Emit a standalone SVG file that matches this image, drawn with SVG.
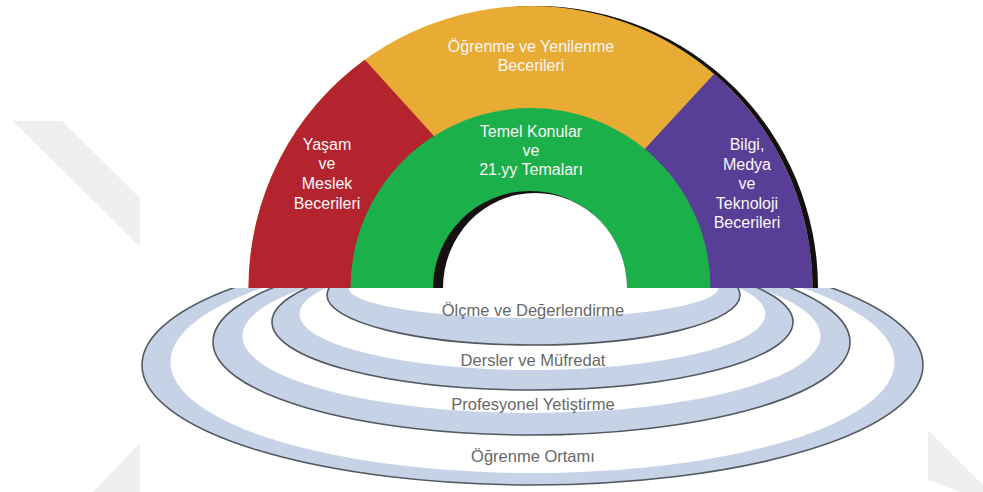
<svg xmlns="http://www.w3.org/2000/svg" width="983" height="492" viewBox="0 0 983 492">
<style>
.ring{fill:#c6d2e6;stroke:#535960;stroke-width:1.6}
.face{fill:#ffffff}
.lbl{font-family:"Liberation Sans",Arial,sans-serif;font-size:16.5px;fill:#686868;text-anchor:middle}
.wt{font-family:"Liberation Sans",Arial,sans-serif;font-size:16px;fill:#fbf6f8;text-anchor:middle}
.wm{fill:#efefef}
</style>
<defs>
<clipPath id="below"><rect x="0" y="288" width="983" height="204"/></clipPath>
<clipPath id="above"><rect x="0" y="0" width="983" height="288.5"/></clipPath>
</defs>
<rect width="983" height="492" fill="#ffffff"/>
<g id="watermark">
<polygon class="wm" points="13,121 62,121 140,198 140,247"/>
<polygon class="wm" points="93,492 140,443 140,492"/>
<polygon class="wm" points="928,430 983,485 983,492 960,492 928,480"/>
</g>
<g id="rings" clip-path="url(#below)">
<g id="ring-ogrenme-ortami">
<ellipse class="ring" cx="532.5" cy="365" rx="390.5" ry="120"/>
<ellipse class="face" cx="532.5" cy="362" rx="362" ry="111"/>
<text class="lbl" x="533" y="462">Öğrenme Ortamı</text>
</g>
<g id="ring-profesyonel">
<ellipse class="ring" cx="531.5" cy="342" rx="318.5" ry="93"/>
<ellipse class="face" cx="531.5" cy="336" rx="289" ry="77"/>
<text class="lbl" x="533" y="410">Profesyonel Yetiştirme</text>
</g>
<g id="ring-dersler">
<ellipse class="ring" cx="532.5" cy="322" rx="260.5" ry="68"/>
<ellipse class="face" cx="532.5" cy="314" rx="233" ry="56"/>
<text class="lbl" x="533" y="366">Dersler ve Müfredat</text>
</g>
<g id="ring-olcme">
<ellipse class="ring" cx="533.5" cy="295" rx="206.5" ry="50"/>
<ellipse class="face" cx="533.5" cy="288" rx="185" ry="30"/>
<text class="lbl" x="533" y="316">Ölçme ve Değerlendirme</text>
</g>
</g>
<g id="arch">
<g id="shadow" clip-path="url(#above)">
<path d="M 254 288 A 282 282 0 0 1 818 288 Z" fill="#111111"/>
</g>
<g id="node-ogrenme-yenilenme">
<path d="M 248.5 288 A 282 282 0 0 1 812.5 288 Z" fill="#e8ac34"/>
<text class="wt" x="531" y="52">Öğrenme ve Yenilenme</text>
<text class="wt" x="531" y="71">Becerileri</text>
</g>
<g id="node-yasam-meslek">
<path d="M 248.5 288 A 282 282 0 0 1 364.8 59.8 L 434 136 L 434 288 Z" fill="#b3242f"/>
<text class="wt" x="327" y="150">Yaşam</text>
<text class="wt" x="327" y="169">ve</text>
<text class="wt" x="327" y="189">Meslek</text>
<text class="wt" x="327" y="209">Becerileri</text>
</g>
<g id="node-bilgi-medya">
<path d="M 812.5 288 A 282 282 0 0 0 714 73.9 L 645 148.7 L 645 288 Z" fill="#583e96"/>
<text class="wt" x="747" y="150">Bilgi,</text>
<text class="wt" x="747" y="169.5">Medya</text>
<text class="wt" x="747" y="189">ve</text>
<text class="wt" x="747" y="208.5">Teknoloji</text>
<text class="wt" x="747" y="228">Becerileri</text>
</g>
<g id="node-temel-konular">
<path d="M 350.5 288 A 180 180 0 0 1 710.5 288 Z" fill="#1bb04a"/>
<path d="M 433 288 A 97 97 0 0 1 627 288 Z" fill="#161010"/>
<path d="M 443 288 A 92 95 0 0 1 627 288 Z" fill="#ffffff"/>
<text class="wt" x="531" y="137">Temel Konular</text>
<text class="wt" x="531" y="156">ve</text>
<text class="wt" x="531" y="175">21.yy Temaları</text>
</g>
</g>
<g id="connectors"/>
</svg>
